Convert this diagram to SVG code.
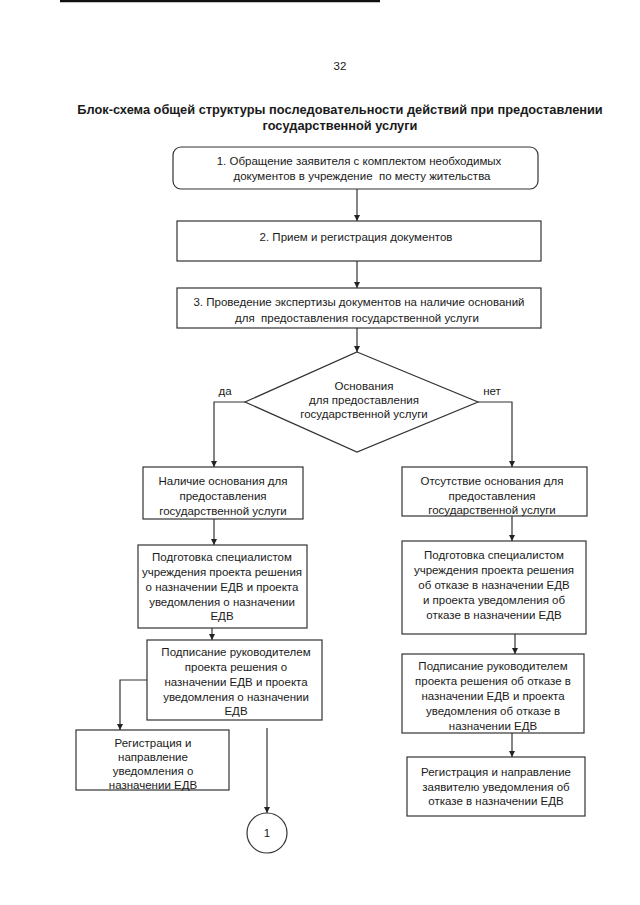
<svg xmlns="http://www.w3.org/2000/svg" width="640" height="905" viewBox="0 0 640 905">
<style>
text{font-family:"Liberation Sans",Arial,sans-serif;font-size:11.5px;fill:#1a1a1a;text-anchor:middle}
.t{font-weight:bold;font-size:12.8px}
.b{fill:#fff;stroke:#333;stroke-width:1.2}
.c{fill:none;stroke:#333;stroke-width:1.2}
</style>
<defs>
<marker id="ar" markerWidth="8" markerHeight="8" refX="6" refY="3" orient="auto" markerUnits="userSpaceOnUse">
<path d="M0,0 L6,3 L0,6 Z" fill="#222"/>
</marker>
</defs>
<rect width="640" height="905" fill="#fff"/>
<line x1="60" y1="1" x2="380" y2="1" stroke="#111" stroke-width="2.5"/>
<text x="340" y="70">32</text>
<text class="t" x="340" y="114">Блок-схема общей структуры последовательности действий при предоставлении</text>
<text class="t" x="340" y="130">государственной услуги</text>

<g id="connectors">
<line class="c" x1="357" y1="189" x2="357" y2="221" marker-end="url(#ar)"/>
<line class="c" x1="357" y1="261" x2="357" y2="288" marker-end="url(#ar)"/>
<line class="c" x1="357" y1="328" x2="357" y2="352" marker-end="url(#ar)"/>
<polyline class="c" points="245,402 214,402 214,467" marker-end="url(#ar)"/>
<polyline class="c" points="478,402 512,402 512,467" marker-end="url(#ar)"/>
<line class="c" x1="214" y1="519" x2="214" y2="545" marker-end="url(#ar)"/>
<line class="c" x1="212" y1="628" x2="212" y2="640" marker-end="url(#ar)"/>
<polyline class="c" points="147,680 120,680 120,730" marker-end="url(#ar)"/>
<line class="c" x1="267" y1="728" x2="267" y2="813" marker-end="url(#ar)"/>
<line class="c" x1="512" y1="516" x2="512" y2="541" marker-end="url(#ar)"/>
<line class="c" x1="515" y1="634" x2="515" y2="654" marker-end="url(#ar)"/>
<line class="c" x1="512" y1="733" x2="512" y2="757" marker-end="url(#ar)"/>
</g>

<g id="n1">
<rect class="b" x="173" y="147" width="365" height="42" rx="8"/>
<text x="359" y="165">1. Обращение заявителя с комплектом необходимых</text>
<text x="362" y="180">документов в учреждение &#160;по месту жительства</text>
</g>
<g id="n2">
<rect class="b" x="177" y="221" width="364" height="40"/>
<text x="356" y="241">2. Прием и регистрация документов</text>
</g>
<g id="n3">
<rect class="b" x="177" y="288" width="364" height="40"/>
<text x="359" y="306">3. Проведение экспертизы документов на наличие оснований</text>
<text x="357" y="322">для &#160;предоставления государственной услуги</text>
</g>
<g id="d1">
<polygon class="b" points="357,352 478,402 357,452 245,402"/>
<text x="364" y="390">Основания</text>
<text x="364" y="404">для предоставления</text>
<text x="364" y="418">государственной услуги</text>
</g>
<text x="225" y="395">да</text>
<text x="492" y="395">нет</text>

<g id="l1">
<rect class="b" x="143" y="467" width="160" height="52"/>
<text x="223" y="485">Наличие основания для</text>
<text x="223" y="500">предоставления</text>
<text x="223" y="515">государственной услуги</text>
</g>
<g id="l2">
<rect class="b" x="138" y="545" width="169" height="83"/>
<text x="222" y="561">Подготовка специалистом</text>
<text x="222" y="576">учреждения проекта решения</text>
<text x="222" y="591">о назначении ЕДВ и проекта</text>
<text x="222" y="606">уведомления о назначении</text>
<text x="222" y="620">ЕДВ</text>
</g>
<g id="l3">
<rect class="b" x="147" y="640" width="175" height="80"/>
<text x="236" y="656">Подписание руководителем</text>
<text x="236" y="671">проекта решения о</text>
<text x="236" y="686">назначении ЕДВ и проекта</text>
<text x="236" y="701">уведомления о назначении</text>
<text x="236" y="715">ЕДВ</text>
</g>
<g id="l4">
<rect class="b" x="76" y="730" width="153" height="60"/>
<text x="153" y="747">Регистрация и</text>
<text x="153" y="761">направление</text>
<text x="153" y="775">уведомления о</text>
<text x="153" y="789">назначении ЕДВ</text>
</g>
<g id="c1">
<circle class="b" cx="267" cy="833" r="20"/>
<text x="267" y="837">1</text>
</g>

<g id="r1">
<rect class="b" x="402" y="467" width="185" height="49"/>
<text x="492" y="485">Отсутствие основания для</text>
<text x="492" y="500">предоставления</text>
<text x="492" y="514">государственной услуги</text>
</g>
<g id="r2">
<rect class="b" x="402" y="541" width="184" height="93"/>
<text x="494" y="559">Подготовка специалистом</text>
<text x="494" y="574">учреждения проекта решения</text>
<text x="494" y="589">об отказе в назначении ЕДВ</text>
<text x="494" y="604">и проекта уведомления об</text>
<text x="494" y="619">отказе в назначении ЕДВ</text>
</g>
<g id="r3">
<rect class="b" x="402" y="654" width="182" height="79"/>
<text x="493" y="670">Подписание руководителем</text>
<text x="493" y="685">проекта решения об отказе в</text>
<text x="493" y="700">назначении ЕДВ и проекта</text>
<text x="493" y="715">уведомления об отказе в</text>
<text x="493" y="730">назначении ЕДВ</text>
</g>
<g id="r4">
<rect class="b" x="407" y="757" width="178" height="59"/>
<text x="496" y="776">Регистрация и направление</text>
<text x="496" y="791">заявителю уведомления об</text>
<text x="496" y="805">отказе в назначении ЕДВ</text>
</g>
</svg>
